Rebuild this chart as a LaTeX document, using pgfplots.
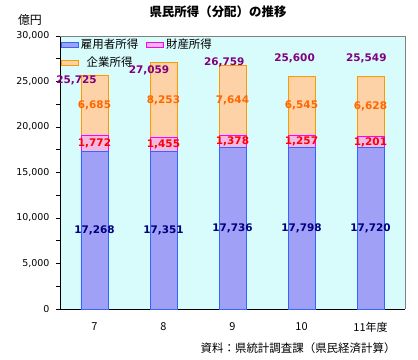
\documentclass[border=0pt]{standalone}
\usepackage{pgfplots}
\pgfplotsset{compat=1.18}
\usepackage{fontspec}
\setmainfont{Noto Sans CJK JP}
\newfontfamily\numfont{DejaVu Sans}
\definecolor{bgc}{HTML}{D8FBFB}
\definecolor{emp}{HTML}{A0A0F6}
\definecolor{empE}{HTML}{3366FF}
\definecolor{prop}{HTML}{F4B8E4}
\definecolor{propE}{HTML}{FF00FF}
\definecolor{ent}{HTML}{FDD2A6}
\definecolor{entE}{HTML}{FF9900}
\definecolor{lnavy}{HTML}{000080}
\definecolor{lred}{HTML}{FF0000}
\definecolor{lorange}{HTML}{FF6600}
\definecolor{lpurple}{HTML}{800080}
\tikzset{lbl/.style={font=\numfont\fontsize{10.5}{12}\selectfont\bfseries, inner sep=0pt}}
\begin{document}
\begin{tikzpicture}
\useasboundingbox (-60bp,-51bp) rectangle (358bp,309bp);
\begin{axis}[
  at={(0,0)}, anchor=south west,
  scale only axis, width=345bp, height=273bp,
  xmin=-0.5, xmax=4.5, ymin=0, ymax=30000,
  ybar stacked, bar width=27bp,
  axis background/.style={fill=bgc},
  axis x line*=bottom, axis y line*=left,
  axis line style={black, line width=0.8pt},
  xtick={0,1,2,3,4},
  xticklabels={7,8,9,10,11年度},
  x tick style={draw=none},
  xticklabel style={yshift=-6bp, font=\fontsize{11}{13}\selectfont},
  ytick={0,5000,...,30000},
  minor ytick={2500,7500,...,27500},
  tick align=outside,
  major tick length=4bp, minor tick length=4bp,
  y tick style={black, line width=0.6pt},
  scaled y ticks=false,
  yticklabel style={font=\numfont\fontsize{9.5}{12}\selectfont, xshift=-3bp,
    /pgf/number format/1000 sep={,}, /pgf/number format/assume math mode=true},
  legend style={at={(0.0,1.0)}, anchor=north west, draw=none, fill=none,
    font=\fontsize{11.5}{13}\selectfont,
    /tikz/every even column/.append style={column sep=6bp},
    row sep=3bp, inner sep=1bp},
  legend columns=2,
  area legend,
  clip=false,
]
\addplot[fill=emp, draw=empE, line width=0.8pt] coordinates {(0,17268) (1,17351) (2,17736) (3,17798) (4,17720)};
\addplot[fill=prop, draw=propE, line width=0.8pt] coordinates {(0,1772) (1,1455) (2,1378) (3,1257) (4,1201)};
\addplot[fill=ent, draw=entE, line width=0.8pt] coordinates {(0,6685) (1,8253) (2,7644) (3,6545) (4,6628)};
\legend{雇用者所得,財産所得,企業所得}
\coordinate (tl) at (rel axis cs:0,1);
\coordinate (tr) at (rel axis cs:1,1);
\coordinate (br) at (rel axis cs:1,0);
\coordinate (e0) at (axis cs:0,8634);
\coordinate (e1) at (axis cs:1,8676);
\coordinate (e2) at (axis cs:2,8868);
\coordinate (e3) at (axis cs:3,8899);
\coordinate (e4) at (axis cs:4,8860);
\coordinate (p0) at (axis cs:0,18154);
\coordinate (p1) at (axis cs:1,18079);
\coordinate (p2) at (axis cs:2,18425);
\coordinate (p3) at (axis cs:3,18427);
\coordinate (p4) at (axis cs:4,18321);
\coordinate (c0) at (axis cs:0,22383);
\coordinate (c1) at (axis cs:1,22933);
\coordinate (c2) at (axis cs:2,22936);
\coordinate (c3) at (axis cs:3,22328);
\coordinate (c4) at (axis cs:4,22235);
\coordinate (t0) at (axis cs:-0.26,25165);
\coordinate (t1) at (axis cs:0.79,26265);
\coordinate (t2) at (axis cs:1.88,27144);
\coordinate (t3) at (axis cs:2.90,27585);
\coordinate (t4) at (axis cs:3.94,27585);
\end{axis}
\draw[gray, line width=0.6pt] (tl) -- (tr) -- (br);
\node[lbl,lnavy] at (e0) {17,268};
\node[lbl,lnavy] at (e1) {17,351};
\node[lbl,lnavy] at (e2) {17,736};
\node[lbl,lnavy] at (e3) {17,798};
\node[lbl,lnavy] at (e4) {17,720};
\node[lbl,lred] at (p0) {1,772};
\node[lbl,lred] at (p1) {1,455};
\node[lbl,lred] at (p2) {1,378};
\node[lbl,lred] at (p3) {1,257};
\node[lbl,lred] at (p4) {1,201};
\node[lbl,lorange] at (c0) {6,685};
\node[lbl,lorange] at (c1) {8,253};
\node[lbl,lorange] at (c2) {7,644};
\node[lbl,lorange] at (c3) {6,545};
\node[lbl,lorange] at (c4) {6,628};
\node[lbl,lpurple] at (t0) {25,725};
\node[lbl,lpurple] at (t1) {27,059};
\node[lbl,lpurple] at (t2) {26,759};
\node[lbl,lpurple] at (t3) {25,600};
\node[lbl,lpurple] at (t4) {25,549};
\node[font=\fontsize{12.5}{14}\selectfont\bfseries] at (158bp,297bp) {県民所得（分配）の推移};
\node[font=\fontsize{12}{14}\selectfont] at (-30bp,289bp) {億円};
\node[font=\fontsize{11.5}{13}\selectfont, anchor=east] at (339bp,-39bp) {資料：県統計調査課（県民経済計算）};
\end{tikzpicture}
\end{document}
